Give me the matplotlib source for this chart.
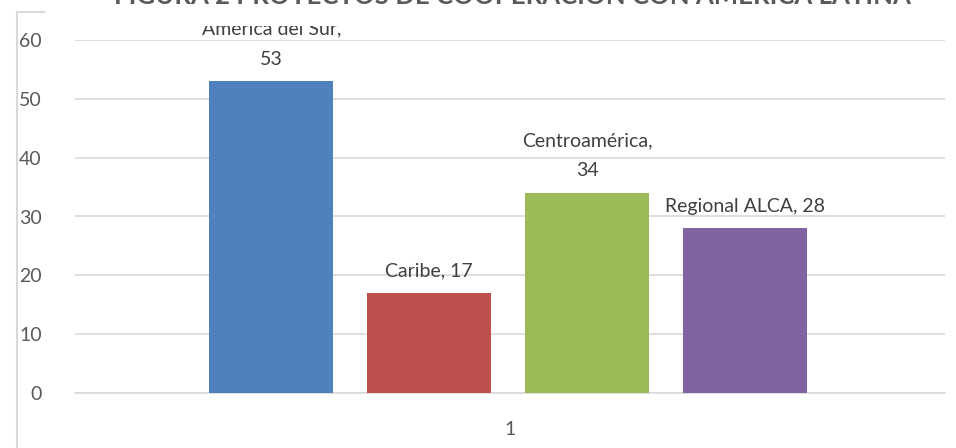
import matplotlib.pyplot as plt
import matplotlib.patches as mpatches
from matplotlib.lines import Line2D

# Data
series = ['América del Sur', 'Caribe', 'Centroamérica', 'Regional ALCA']
values = [53, 17, 34, 28]
colors = ['#4F81BD', '#C0504D', '#9BBB59', '#8064A2']
labels = ['América del Sur,\n53', 'Caribe, 17', 'Centroamérica,\n34', 'Regional ALCA, 28']
category = 1
title = 'FIGURA 2 PROYECTOS DE COOPERACIÓN CON AMÉRICA LATINA'

plt.rcParams['font.family'] = ['Lato', 'DejaVu Sans']

W, H = 956, 448
fig = plt.figure(figsize=(W / 100, H / 100), dpi=100)
ax = fig.add_axes([75 / W, 1 - 393 / H, 870 / W, 353 / H])

step = 0.1816
width = 0.1425
for i, (v, c, lab) in enumerate(zip(values, colors, labels)):
    x = category - 0.002 + (i - 1.5) * step
    ax.bar(x, v, width=width, color=c, zorder=3)
    ax.text(x, v + 2.3, lab, ha='center', va='bottom', fontsize=14,
            color='#404040', linespacing=1.95, zorder=4)

ax.set_xlim(0.5, 1.5)
ax.set_ylim(0, 60)
ax.set_yticks(range(0, 61, 10))
ax.set_xticks([category])
ax.yaxis.grid(True, color='#D9D9D9', linewidth=1.2, zorder=0)
for s in ['top', 'right', 'left']:
    ax.spines[s].set_visible(False)
ax.spines['bottom'].set_color('#D9D9D9')
ax.spines['bottom'].set_linewidth(1.2)
ax.tick_params(length=0, labelsize=14, colors='#595959')
ax.tick_params(axis='y', pad=24)
ax.tick_params(axis='x', pad=20)

# chart frame (only left and part of the top are visible)
fig.add_artist(Line2D([17 / W, 17 / W], [0, 1 - 12 / H], transform=fig.transFigure,
                      color='#D9D9D9', linewidth=1.5))
fig.add_artist(Line2D([17 / W, 45 / W], [1 - 12 / H, 1 - 12 / H], transform=fig.transFigure,
                      color='#D9D9D9', linewidth=1.5))

# title box, mostly cut off at the top edge (it also hides the top of the first label)
fig.add_artist(mpatches.Rectangle((45 / W, 1 - 26 / H), 1, 26 / H, transform=fig.transFigure,
                                  facecolor='white', edgecolor='none', zorder=5))
fig.text(512 / W, 1 - 4 / H, title, ha='center', va='baseline', fontsize=18.5,
         fontweight='bold', color='#595959', zorder=6)

fig.savefig('out.png', dpi=100)
